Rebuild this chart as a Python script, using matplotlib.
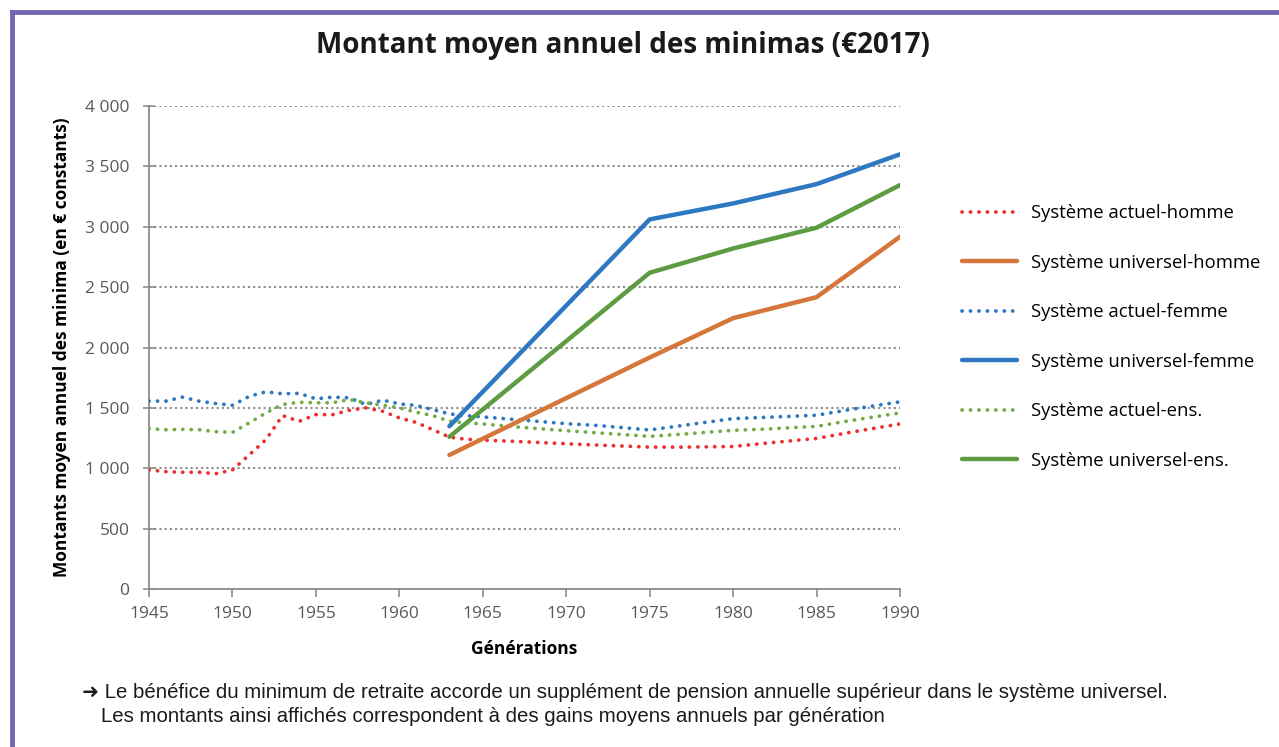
import matplotlib

matplotlib.use("Agg")
import matplotlib.pyplot as plt
from matplotlib.lines import Line2D
from matplotlib.ticker import FuncFormatter

# generations
years_actuel = list(range(1945, 1965)) + [1965, 1967, 1970, 1972, 1975, 1977, 1980, 1982, 1985, 1987, 1990]
years_univ = [1963, 1975, 1980, 1985, 1990]

actuel_homme = [986, 972, 967, 967, 955, 986, 1110, 1236, 1436, 1389, 1444, 1444, 1480, 1500, 1472,
                1417, 1380, 1320, 1258, 1240, 1233, 1222, 1203, 1191, 1175, 1175, 1180, 1208, 1247, 1297, 1367]
actuel_femme = [1556, 1556, 1589, 1556, 1536, 1522, 1595, 1633, 1617, 1620, 1575, 1589, 1583, 1528, 1564,
                1533, 1520, 1486, 1450, 1436, 1425, 1403, 1369, 1353, 1317, 1355, 1411, 1422, 1439, 1486, 1550]
actuel_ens = [1328, 1319, 1322, 1319, 1303, 1297, 1375, 1458, 1528, 1547, 1542, 1542, 1569, 1542, 1522,
              1500, 1464, 1436, 1390, 1375, 1367, 1342, 1311, 1292, 1264, 1283, 1314, 1325, 1347, 1394, 1458]
univ_homme = [1110, 1917, 2243, 2417, 2917]
univ_femme = [1348, 3061, 3193, 3353, 3600]
univ_ens = [1260, 2619, 2820, 2992, 3345]

series = [
    ("Système actuel-homme", years_actuel, actuel_homme, "#ef2f2f", "dot"),
    ("Système universel-homme", years_univ, univ_homme, "#d5763a", "solid"),
    ("Système actuel-femme", years_actuel, actuel_femme, "#2e78c2", "dot"),
    ("Système universel-femme", years_univ, univ_femme, "#2e78c2", "solid"),
    ("Système actuel-ens.", years_actuel, actuel_ens, "#70ad47", "dot"),
    ("Système universel-ens.", years_univ, univ_ens, "#5e9c44", "solid"),
]

DOTS = (0, (0.05, 2.2))
DOT_LW = 2.7
font = ["Open Sans", "DejaVu Sans"]
plt.rcParams["font.family"] = font

fig = plt.figure(figsize=(12.79, 7.47), dpi=100)
ax = fig.add_axes([149 / 1279, 1 - 589 / 747, 751 / 1279, 483 / 747])

for label, xs, ys, color, kind in series:
    if kind == "dot":
        ax.plot(xs, ys, color=color, lw=DOT_LW, linestyle=DOTS, dash_capstyle="round", zorder=3)
    else:
        ax.plot(xs, ys, color=color, lw=3.2, solid_capstyle="round", zorder=4)

ax.set_xlim(1945, 1990)
ax.set_ylim(0, 4000)
ax.set_xticks(range(1945, 1991, 5))
ax.set_yticks(range(0, 4001, 500))
ax.yaxis.set_major_formatter(FuncFormatter(lambda v, p: f"{int(v):,}".replace(",", " ")))
ax.grid(axis="y", color="#8c8c8c", linestyle=(0, (1, 1.5)), lw=1.5)
ax.set_axisbelow(True)
for s in ("top", "right"):
    ax.spines[s].set_visible(False)
for s in ("left", "bottom"):
    ax.spines[s].set_color("#8c8c8c")
    ax.spines[s].set_linewidth(1.3)
ax.tick_params(colors="#8c8c8c", labelcolor="#595959", labelsize=12.5, width=1.2)
ax.tick_params(axis="y", direction="inout", length=8, pad=10)
ax.tick_params(axis="x", direction="out", length=6, pad=6)

ax.set_xlabel("Générations", fontsize=12.5, fontweight="bold", labelpad=13)
ax.set_ylabel("Montants moyen annuel des minima (en € constants)", fontsize=12.5,
              fontweight="bold", labelpad=10)

fig.text(623 / 1279, 1 - 45 / 747, "Montant moyen annuel des minimas (€2017)",
         ha="center", va="center", fontsize=20, fontweight="bold", color="#1a1a1a")

leg_handles = []
for label, xs, ys, color, kind in series:
    if kind == "dot":
        leg_handles.append(Line2D([], [], color=color, lw=DOT_LW, linestyle=DOTS, dash_capstyle="round"))
    else:
        leg_handles.append(Line2D([], [], color=color, lw=3.2, solid_capstyle="round"))
fig.legend(leg_handles, [s[0] for s in series], loc="center left",
           bbox_to_anchor=(962 / 1279, 1 - 337 / 747), frameon=False, fontsize=13.3,
           handlelength=3.0, handletextpad=0.75, labelspacing=1.7, borderpad=0, borderaxespad=0)

# footnote
note_font = ["Liberation Sans", "DejaVu Sans"]
fig.text(82 / 1279, 1 - 692 / 747,
         "➜ Le bénéfice du minimum de retraite accorde un supplément de pension annuelle supérieur dans le système universel.",
         ha="left", va="center", fontsize=14.7, family=note_font, color="#1a1a1a")
fig.text(101 / 1279, 1 - 716 / 747,
         "Les montants ainsi affichés correspondent à des gains moyens annuels par génération",
         ha="left", va="center", fontsize=14.7, family=note_font, color="#1a1a1a")

# purple frame (top and left)
fig.add_artist(Line2D([12 / 1279, 1], [1 - 12 / 747, 1 - 12 / 747], color="#6f68b0", lw=3.5,
                      transform=fig.transFigure))
fig.add_artist(Line2D([12 / 1279, 12 / 1279], [0, 1 - 12 / 747], color="#6f68b0", lw=3.5,
                      transform=fig.transFigure))

fig.savefig("out.png", dpi=100)
